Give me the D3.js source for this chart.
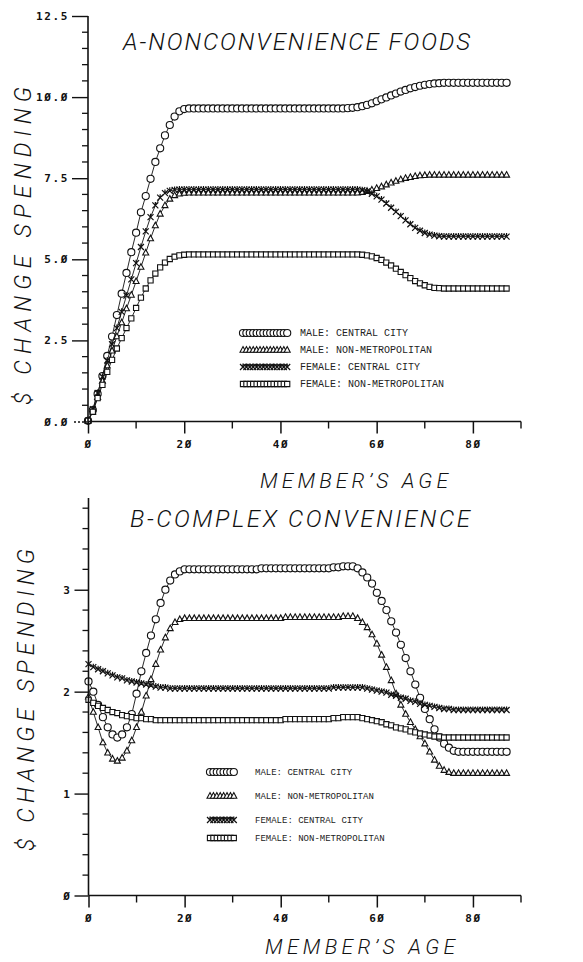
<!DOCTYPE html>
<html>
<head>
<meta charset="utf-8">
<script src="https://cdn.jsdelivr.net/npm/d3@7"></script>
<style>
  body { margin: 0; background: #fff; }
  svg { display: block; }
  .ttl { font-family: Roboto, "DejaVu Sans", sans-serif; font-weight: 300; font-style: italic; fill: #111; }
  .tick-lbl { font-family: "DejaVu Sans Mono", monospace; font-weight: bold; font-size: 11px; fill: #111; }
  .leg { font-family: "Liberation Mono", monospace; fill: #222; }
</style>
</head>
<body>
<svg id="chart" width="583" height="962"></svg>
<script>
// member's age (years) - one marker per year
const ages = [0,1,2,3,4,5,6,7,8,9,10,11,12,13,14,15,16,17,18,19,20,21,22,23,24,25,26,27,28,29,
  30,31,32,33,34,35,36,37,38,39,40,41,42,43,44,45,46,47,48,49,50,51,52,53,54,55,56,57,58,59,
  60,61,62,63,64,65,66,67,68,69,70,71,72,73,74,75,76,77,78,79,80,81,82,83,84,85,86,87];

const seriesNames = ["MALE: CENTRAL CITY", "MALE: NON-METROPOLITAN", "FEMALE: CENTRAL CITY", "FEMALE: NON-METROPOLITAN"];

// A - nonconvenience foods
const aMaleCentral = [0.02,0.35,0.85,1.4,2.02,2.62,3.28,3.94,4.58,5.22,5.82,6.45,6.95,7.48,8.0,8.42,8.82,9.14,9.4,9.56,9.63,9.65,
  9.65,9.65,9.65,9.65,9.65,9.65,9.65,9.65,9.65,9.65,9.65,9.65,9.65,9.65,9.65,9.65,9.65,9.65,9.65,9.65,9.65,9.65,9.65,9.65,9.65,9.65,9.65,9.65,9.65,9.65,9.65,
  9.65,9.66,9.67,9.69,9.72,9.76,9.81,9.87,9.93,9.99,10.05,10.11,10.17,10.22,10.27,10.31,10.35,10.38,10.4,10.42,10.43,
  10.44,10.44,10.44,10.44,10.44,10.44,10.44,10.44,10.44,10.44,10.44,10.44,10.44,10.44];
const aMaleNonMetro = [0.02,0.3,0.75,1.25,1.72,2.18,2.62,3.05,3.48,3.9,4.32,4.76,5.2,5.64,6.04,6.4,6.66,6.86,6.97,7.02,7.04,7.05,
  7.05,7.05,7.05,7.05,7.05,7.05,7.05,7.05,7.05,7.05,7.05,7.05,7.05,7.05,7.05,7.05,7.05,7.05,7.05,7.05,7.05,7.05,7.05,7.05,7.05,7.05,7.05,7.05,7.05,7.05,7.05,7.05,7.05,7.05,7.05,
  7.07,7.1,7.14,7.19,7.24,7.3,7.36,7.41,7.46,7.5,7.53,7.56,7.58,7.59,
  7.6,7.6,7.6,7.6,7.6,7.6,7.6,7.6,7.6,7.6,7.6,7.6,7.6,7.6,7.6,7.6,7.6];
const aFemaleCentral = [0.02,0.38,0.88,1.38,1.88,2.38,2.88,3.38,3.88,4.38,4.88,5.38,5.86,6.3,6.66,6.9,7.04,7.11,7.14,
  7.15,7.15,7.15,7.15,7.15,7.15,7.15,7.15,7.15,7.15,7.15,7.15,7.15,7.15,7.15,7.15,7.15,7.15,7.15,7.15,7.15,7.15,7.15,7.15,7.15,7.15,7.15,7.15,7.15,7.15,7.15,7.15,7.15,7.15,7.15,7.15,7.15,7.15,
  7.13,7.09,7.02,6.94,6.84,6.72,6.59,6.46,6.33,6.2,6.08,5.97,5.88,5.81,5.76,5.73,5.71,
  5.7,5.7,5.7,5.7,5.7,5.7,5.7,5.7,5.7,5.7,5.7,5.7,5.7,5.7];
const aFemaleNonMetro = [0.02,0.3,0.72,1.13,1.53,1.9,2.25,2.57,2.88,3.18,3.5,3.82,4.1,4.35,4.56,4.75,4.9,5.01,5.08,5.12,5.14,
  5.15,5.15,5.15,5.15,5.15,5.15,5.15,5.15,5.15,5.15,5.15,5.15,5.15,5.15,5.15,5.15,5.15,5.15,5.15,5.15,5.15,5.15,5.15,5.15,5.15,5.15,5.15,5.15,5.15,5.15,5.15,5.15,5.15,5.15,5.15,5.15,
  5.14,5.12,5.09,5.04,4.98,4.9,4.81,4.71,4.61,4.51,4.42,4.33,4.26,4.2,4.15,4.12,4.11,
  4.1,4.1,4.1,4.1,4.1,4.1,4.1,4.1,4.1,4.1,4.1,4.1,4.1,4.1];

// B - complex convenience
const bMaleCentral = [2.1,2.0,1.87,1.75,1.65,1.58,1.55,1.58,1.65,1.78,1.98,2.2,2.38,2.55,2.71,2.87,3.0,3.09,3.15,3.18,3.2,
  3.2,3.2,3.2,3.2,3.2,3.2,3.2,3.2,3.2,3.2,3.2,3.2,3.2,3.2,3.2,
  3.21,3.21,3.21,3.21,3.21,3.21,3.21,3.21,3.21,3.21,3.21,3.21,3.21,3.21,3.21,
  3.22,3.22,3.23,3.23,3.23,
  3.21,3.17,3.12,3.06,2.97,2.89,2.8,2.69,2.58,2.46,2.33,2.2,2.07,1.94,1.83,1.73,1.63,1.55,1.49,1.45,1.42,
  1.41,1.41,1.41,1.41,1.41,1.41,1.41,1.41,1.41,1.41,1.41];
const bMaleNonMetro = [1.95,1.8,1.65,1.5,1.4,1.34,1.32,1.35,1.42,1.52,1.65,1.8,1.96,2.12,2.27,2.41,2.53,2.62,2.68,2.71,2.72,
  2.72,2.72,2.72,2.72,2.72,2.72,2.72,2.72,2.72,2.72,2.72,2.72,2.72,2.72,2.72,2.72,2.72,2.72,2.72,2.72,
  2.73,2.73,2.73,2.73,2.73,2.73,2.73,2.73,2.73,2.73,2.73,2.73,
  2.74,2.74,2.74,
  2.72,2.68,2.63,2.56,2.47,2.36,2.24,2.11,1.98,1.87,1.78,1.7,1.63,1.56,1.49,1.41,1.33,1.27,1.23,1.21,
  1.2,1.2,1.2,1.2,1.2,1.2,1.2,1.2,1.2,1.2,1.2,1.2];
const bFemaleCentral = [2.27,2.24,2.22,2.2,2.18,2.16,2.14,2.13,2.11,2.1,2.09,2.08,2.07,2.06,2.05,2.04,2.04,2.03,2.03,2.03,2.03,
  2.03,2.03,2.03,2.03,2.03,2.03,2.03,2.03,2.03,2.03,2.03,2.03,2.03,2.03,2.03,2.03,2.03,2.03,2.03,2.03,2.03,2.03,2.03,2.03,2.03,2.03,2.03,2.03,2.03,2.03,
  2.04,2.04,2.04,2.04,2.04,2.04,
  2.04,2.03,2.02,2.01,2.0,1.99,1.97,1.96,1.94,1.93,1.91,1.9,1.88,1.87,1.86,1.85,1.84,1.83,1.83,
  1.82,1.82,1.82,1.82,1.82,1.82,1.82,1.82,1.82,1.82,1.82,1.82];
const bFemaleNonMetro = [1.92,1.89,1.86,1.84,1.82,1.8,1.79,1.77,1.76,1.75,1.74,1.74,1.73,1.73,1.72,
  1.72,1.72,1.72,1.72,1.72,1.72,1.72,1.72,1.72,1.72,1.72,1.72,1.72,1.72,1.72,1.72,1.72,1.72,1.72,1.72,1.72,1.72,1.72,1.72,1.72,1.72,
  1.73,1.73,1.73,1.73,1.73,1.73,1.73,1.73,1.73,1.73,
  1.74,1.74,1.75,1.75,1.75,
  1.75,1.74,1.73,1.72,1.71,1.7,1.68,1.67,1.65,1.64,1.63,1.61,1.6,1.59,1.58,1.57,1.56,1.56,
  1.55,1.55,1.55,1.55,1.55,1.55,1.55,1.55,1.55,1.55,1.55,1.55,1.55,1.55];

// ticks
const xMajorTicks = [0, 20, 40, 60, 80];
const xMinorTicks = [10, 30, 50, 70, 90];
const aYMajorTicks = [0, 2.5, 5, 7.5, 10, 12.5];
const bYMajorTicks = [0, 1, 2, 3];

const markerTypes = ["circle", "triangle", "x", "square"];

const svg = d3.select("#chart");

// slashed zero like the plotter font
function plotterNum(s) { return String(s).replace(/0/g, "\u00D8"); }

function markerPath(type) {
  if (type == "circle") return d3.symbol().type(d3.symbolCircle).size(40)();
  if (type == "triangle") return "M0,-3.4L3,2.2L-3,2.2Z";
  if (type == "square") return "M-2.6,-2.6H2.6V2.6H-2.6Z";
  return "M-3,-3L3,3M-3,3L3,-3M0,-3.5V0";
}

function drawMarkers(g, pts, type) {
  g.selectAll(null)
    .data(pts)
    .enter().append("path")
    .attr("transform", d => "translate(" + d[0] + "," + d[1] + ")")
    .attr("d", markerPath(type))
    .attr("fill", type == "x" ? "none" : "#fff")
    .attr("stroke", "#111")
    .attr("stroke-width", type == "x" ? 1.2 : 1.1);
}

function drawPanel(opt) {
  const x = d3.scaleLinear().domain([0, 90]).range(opt.xRange);
  const y = d3.scaleLinear().domain(opt.yDomain).range(opt.yRange);
  const g = svg.append("g");

  // series: thin line plus a marker every year
  opt.series.forEach(function(vals, i) {
    const pts = ages.map((a, j) => [x(a), y(vals[j])]);
    g.append("path")
      .attr("d", d3.line()(pts))
      .attr("fill", "none")
      .attr("stroke", "#111")
      .attr("stroke-width", 0.9);
    drawMarkers(g, pts, markerTypes[i]);
  });

  // x axis
  const xa = g.append("g").attr("transform", "translate(0," + y(0) + ")");
  xa.call(d3.axisBottom(x).tickValues(xMajorTicks).tickSize(12).tickPadding(7).tickFormat(plotterNum));
  xa.select(".domain").attr("d", "M" + x(0) + ",0H" + x(90)).attr("stroke-width", 1.6);
  xa.selectAll(".tick line").attr("stroke-width", 1.5);
  xa.selectAll(".tick text").attr("class", "tick-lbl").style("letter-spacing", "1.5px");
  xa.selectAll(".minor")
    .data(xMinorTicks)
    .enter().append("line")
    .attr("x1", d => x(d)).attr("x2", d => x(d))
    .attr("y1", 0).attr("y2", 7)
    .attr("stroke", "#111").attr("stroke-width", 1.4);

  // y axis
  const ya = g.append("g").attr("transform", "translate(" + x(0) + ",0)");
  ya.call(d3.axisLeft(y).tickValues(opt.yMajor).tickSize(opt.majorLen).tickPadding(3).tickFormat(d => plotterNum(opt.fmt(d))));
  ya.select(".domain").attr("d", "M0," + y(opt.yDomain[0]) + "V" + y(opt.yDomain[1])).attr("stroke-width", 1.6);
  ya.selectAll(".tick line").attr("stroke-width", 1.4)
    .attr("stroke-dasharray", d => (d == 0 && opt.dashZero) ? "2,2" : null);
  ya.selectAll(".tick text").attr("class", "tick-lbl").style("letter-spacing", "1.6px");
  ya.selectAll(".minor")
    .data(opt.yMinor)
    .enter().append("line")
    .attr("x1", -6).attr("x2", 0)
    .attr("y1", d => y(d)).attr("y2", d => y(d))
    .attr("stroke", "#111").attr("stroke-width", 1.3);
  ya.selectAll("path, line").attr("stroke", "#111");
  xa.selectAll("path, line").attr("stroke", "#111");

  // titles
  svg.append("text").attr("class", "ttl")
    .attr("x", opt.title[1]).attr("y", opt.title[2])
    .attr("textLength", opt.title[3]).attr("lengthAdjust", "spacing")
    .style("font-size", "24px").text(opt.title[0]);
  svg.append("text").attr("class", "ttl")
    .attr("x", opt.xTitle[0]).attr("y", opt.xTitle[1])
    .attr("textLength", opt.xTitle[2]).attr("lengthAdjust", "spacing")
    .style("font-size", "21px").text("MEMBER\u2019S AGE");
  svg.append("text").attr("class", "ttl")
    .attr("transform", "translate(" + opt.yTitle[0] + "," + opt.yTitle[1] + ") rotate(-90)")
    .attr("text-anchor", "middle")
    .attr("textLength", opt.yTitle[2]).attr("lengthAdjust", "spacing")
    .style("font-size", "23px").text("$ CHANGE SPENDING");

  // legend
  const lg = svg.append("g");
  seriesNames.forEach(function(name, i) {
    const ly = opt.legend.rows[i];
    const pts = d3.range(opt.legend.count).map(k => [opt.legend.x0 + k * 3.4, ly]);
    drawMarkers(lg, pts, markerTypes[i]);
    lg.append("text").attr("class", "leg")
      .attr("x", opt.legend.tx).attr("y", ly + 3)
      .style("font-size", opt.legend.fs + "px")
      .text(name);
  });
}

drawPanel({
  series: [aMaleCentral, aMaleNonMetro, aFemaleCentral, aFemaleNonMetro],
  xRange: [88, 521], yDomain: [0, 12.5], yRange: [421.5, 16],
  yMajor: aYMajorTicks, yMinor: [0.5,1,1.5,2,3,3.5,4,4.5,5.5,6,6.5,7,8,8.5,9,9.5,10.5,11,11.5,12],
  majorLen: 16, dashZero: true, fmt: d3.format(".1f"),
  title: ["A-NONCONVENIENCE FOODS", 123, 50, 347],
  xTitle: [260, 488, 188],
  yTitle: [31, 246, 318],
  legend: { x0: 243, count: 14, tx: 300, fs: 10, rows: [333, 350, 367, 384] }
});

drawPanel({
  series: [bMaleCentral, bMaleNonMetro, bFemaleCentral, bFemaleNonMetro],
  xRange: [88.5, 521], yDomain: [0, 3.9], yRange: [895.5, 498],
  yMajor: bYMajorTicks, yMinor: [0.2,0.4,0.6,0.8,1.2,1.4,1.6,1.8,2.2,2.4,2.6,2.8,3.2,3.4,3.6,3.8],
  majorLen: 14, dashZero: false, fmt: d3.format("d"),
  title: ["B-COMPLEX CONVENIENCE", 130, 527, 340],
  xTitle: [265, 954, 190],
  yTitle: [34, 700, 302],
  legend: { x0: 210, count: 8, tx: 255, fs: 9, rows: [772, 796, 820, 838] }
});
</script>
</body>
</html>
